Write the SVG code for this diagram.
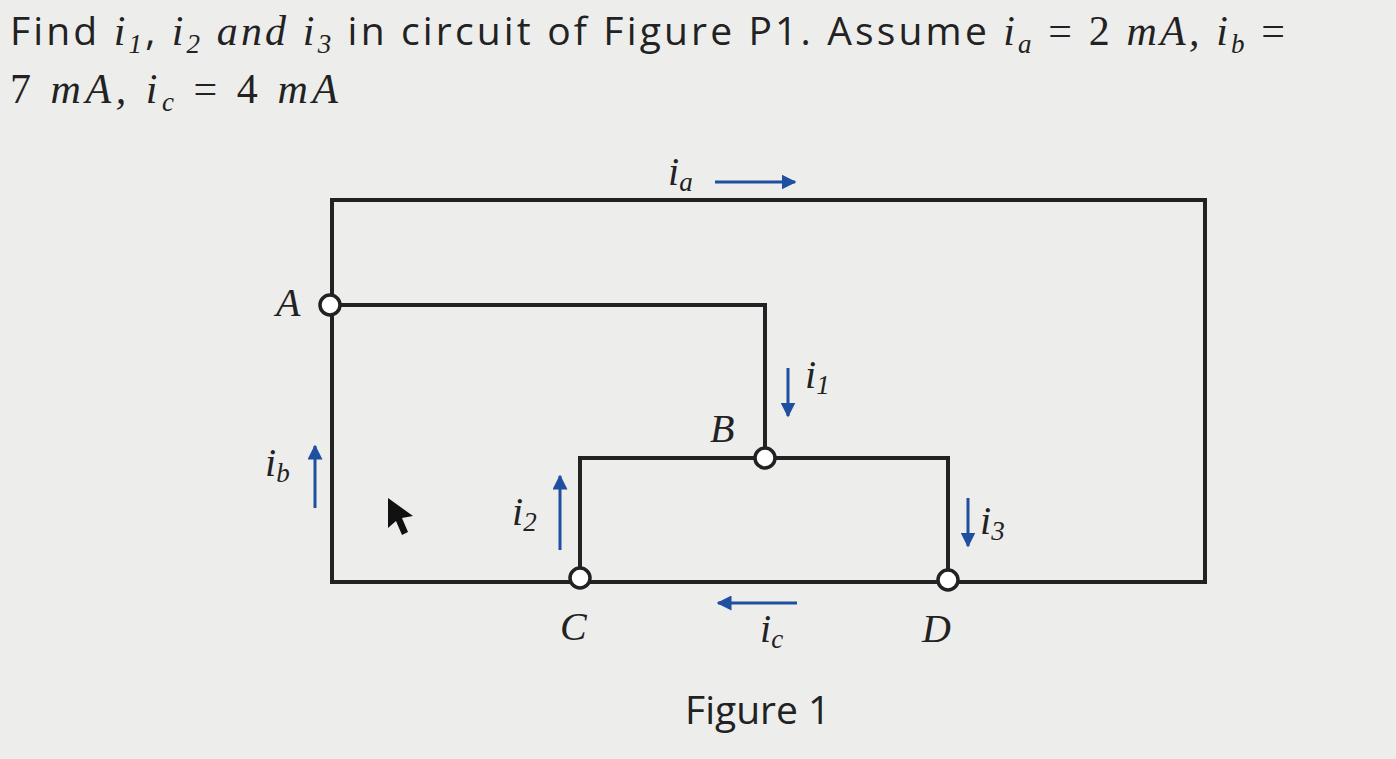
<svg xmlns="http://www.w3.org/2000/svg" width="1396" height="759" viewBox="0 0 1396 759">
<defs>
<style>
.w{fill:none;stroke:#222;stroke-width:4}
.a{stroke:#1f4fa0;stroke-width:3;fill:none}
.n{fill:#fff;stroke:#222;stroke-width:3.5}
.t{font-family:"Liberation Serif",serif;font-style:italic;font-size:40px;fill:#222}
.s{font-family:"Open Sans","Liberation Sans",sans-serif;font-size:39px;fill:#222}
.m{font-family:"Liberation Serif",serif;font-style:italic;font-size:42px;fill:#222}
.sub{font-size:27px}
.up{font-style:normal}
</style>
<marker id="h" viewBox="0 0 10 10" refX="9" refY="5" markerWidth="5" markerHeight="5" orient="auto"><path d="M0,0L10,5L0,10z" fill="#1f4fa0"/></marker>
</defs>
<rect width="1396" height="759" fill="#ededeb"/>
<text x="10" y="45" class="s" textLength="1275" lengthAdjust="spacing">Find <tspan class="m">i</tspan><tspan class="m sub" dy="8">1</tspan><tspan dy="-8">, </tspan><tspan class="m">i</tspan><tspan class="m sub" dy="8">2</tspan><tspan dy="-8" class="m"> and i</tspan><tspan class="m sub" dy="8">3</tspan><tspan dy="-8"> in circuit of Figure P1. Assume </tspan><tspan class="m">i</tspan><tspan class="m sub" dy="8">a</tspan><tspan class="m up" dy="-8"> = 2 </tspan><tspan class="m">mA, i</tspan><tspan class="m sub" dy="8">b</tspan><tspan class="m up" dy="-8"> =</tspan></text>
<text x="10" y="103" class="m" textLength="328" lengthAdjust="spacing"><tspan class="up">7 </tspan>mA, i<tspan class="sub" dy="8">c</tspan><tspan dy="-8" class="up"> = 4 </tspan>mA</text>
<g id="connectors">
<path class="w" d="M330,200H1205V582H332V200"/>
<path class="w" d="M330,305H765V458H948V580"/>
<path class="w" d="M765,458H580V578"/>
<line class="a" x1="715" y1="182" x2="795" y2="182" marker-end="url(#h)"/>
<line class="a" x1="788" y1="368" x2="788" y2="416" marker-end="url(#h)"/>
<line class="a" x1="315" y1="508" x2="315" y2="446" marker-end="url(#h)"/>
<line class="a" x1="560" y1="550" x2="560" y2="476" marker-end="url(#h)"/>
<line class="a" x1="968" y1="498" x2="968" y2="546" marker-end="url(#h)"/>
<line class="a" x1="797" y1="603" x2="718" y2="603" marker-end="url(#h)"/>
</g>
<g id="A"><circle class="n" cx="330" cy="305" r="10"/><text class="t" x="276" y="316">A</text></g>
<g id="B"><circle class="n" cx="765" cy="458" r="10"/><text class="t" x="710" y="442">B</text></g>
<g id="C"><circle class="n" cx="580" cy="578" r="10"/><text class="t" x="560" y="640">C</text></g>
<g id="D"><circle class="n" cx="948" cy="580" r="10"/><text class="t" x="922" y="642">D</text></g>
<g id="labels" class="t">
<text x="668" y="185">i<tspan class="sub" dy="6">a</tspan></text>
<text x="805" y="388">i<tspan class="sub" dy="6">1</tspan></text>
<text x="265" y="476">i<tspan class="sub" dy="6">b</tspan></text>
<text x="512" y="525">i<tspan class="sub" dy="6">2</tspan></text>
<text x="980" y="534">i<tspan class="sub" dy="6">3</tspan></text>
<text x="760" y="642">i<tspan class="sub" dy="6">c</tspan></text>
</g>
<text x="685" y="724" class="s">Figure 1</text>
<path d="M388,498L413,516L402,518L408,532L402,535L396,521L388,528z" fill="#111"/>
</svg>
